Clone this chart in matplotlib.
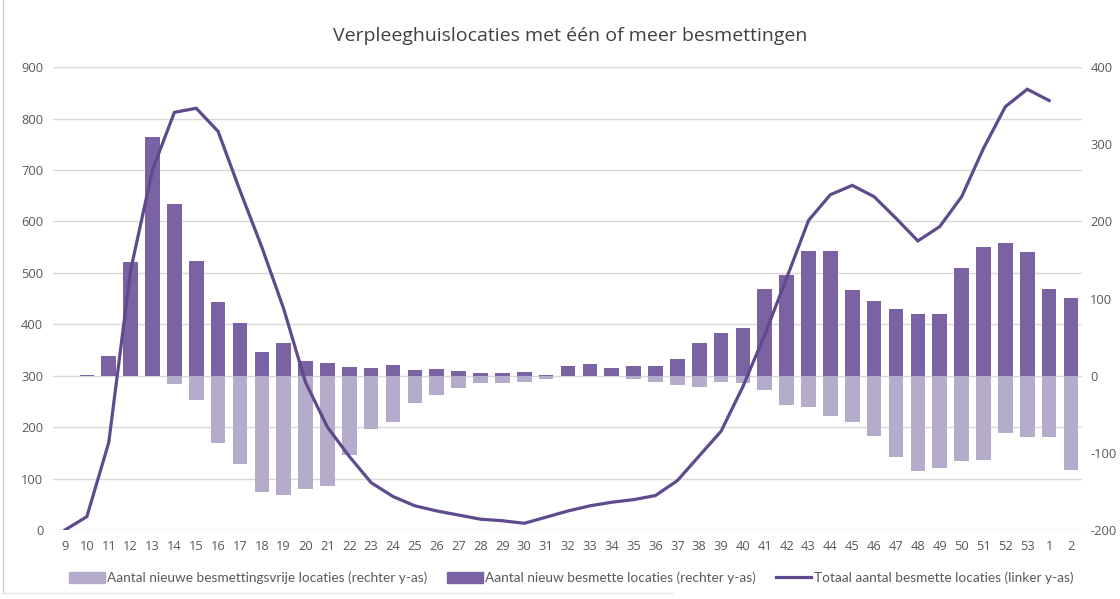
import numpy as np
import matplotlib.pyplot as plt
from matplotlib.lines import Line2D
from matplotlib.patches import Patch

plt.rcParams["axes.unicode_minus"] = False
plt.rcParams["font.family"] = ["Open Sans", "DejaVu Sans"]

# weeks (2020 week 9 .. week 53, then 2021 week 1, 2)
weeks = [str(w) for w in range(9, 54)] + ["1", "2"]

# totaal aantal besmette locaties (linker y-as)
totaal = [0, 26, 170, 505, 700, 812, 820, 775, 660, 550,
          430, 287, 200, 143, 92, 65, 47, 37, 29, 21,
          18, 13, 25, 37, 47, 54, 59, 67, 96, 144,
          192, 279, 380, 490, 602, 652, 670, 648, 606, 562,
          590, 648, 742, 823, 857, 835, np.nan]

# nieuw besmette locaties (rechter y-as)
nieuw_besmet = [0, 1, 25, 147, 309, 222, 149, 95, 68, 31,
                42, 19, 16, 11, 10, 14, 7, 9, 6, 3,
                3, 5, 1, 12, 15, 10, 12, 13, 22, 43,
                55, 62, 112, 130, 161, 161, 111, 97, 86, 80,
                80, 140, 167, 172, 160, 113, 101]

# nieuwe besmettingsvrije locaties (rechter y-as, negatief)
besmettingsvrij = [0, 0, 0, 0, 0, -11, -31, -87, -115, -151,
                   -155, -147, -143, -103, -69, -60, -35, -25, -16, -10,
                   -10, -8, -4, -1, -1, -1, -4, -8, -12, -15,
                   -8, -10, -18, -38, -41, -52, -60, -78, -106, -124,
                   -120, -110, -109, -74, -79, -80, -122]

dark = "#7b62a3"
light = "#b5abcb"
linecol = "#5e4a8c"
txtcol = "#595959"
gridcol = "#d9d9d9"

fig = plt.figure(figsize=(11.2, 5.99), dpi=100)
ax = fig.add_axes([0.0473, 0.1152, 0.9187, 0.7728])
ax2 = ax.twinx()

x = np.arange(len(weeks))

ax2.bar(x, besmettingsvrij, width=0.67, color=light, zorder=2)
ax2.bar(x, nieuw_besmet, width=0.67, color=dark, zorder=2)
ax2.set_ylim(-200, 400)
ax2.set_yticks(range(-200, 401, 100))

ax.set_ylim(0, 900)
ax.set_yticks(range(0, 901, 100))
ax.grid(axis="y", color=gridcol, linewidth=1)
ax.set_axisbelow(True)

# line drawn on a third axis on top so it sits above the bars
ax3 = ax.twinx()
ax3.set_ylim(0, 900)
ax3.plot(x, totaal, color=linecol, linewidth=2.3, solid_joinstyle="miter", zorder=5)
ax3.axis("off")

for a in (ax, ax2, ax3):
    a.set_xlim(-0.55, len(weeks) - 0.5)
    for s in a.spines.values():
        s.set_visible(False)

ax.set_xticks(x)
ax.set_xticklabels(weeks)
ax.tick_params(axis="both", length=0, labelsize=9.3, labelcolor=txtcol, pad=7)
ax2.tick_params(axis="y", length=0, labelsize=9.3, labelcolor=txtcol, pad=6)

fig.text(0.509, 0.94, "Verpleeghuislocaties met één of meer besmettingen",
         ha="center", va="center", fontsize=14, color="#404040")

handles = [Patch(color=light), Patch(color=dark),
           Line2D([0], [0], color=linecol, linewidth=2.3)]
labels = ["Aantal nieuwe besmettingsvrije locaties (rechter y-as)",
          "Aantal nieuw besmette locaties (rechter y-as)",
          "Totaal aantal besmette locaties (linker y-as)"]
leg = fig.legend(handles, labels, loc="center", bbox_to_anchor=(0.51, 0.035), ncol=3,
                 frameon=False, handlelength=2.6, handleheight=0.9, handletextpad=0.15,
                 columnspacing=1.5,
                 prop={"family": "Lato", "size": 9.8})
for t in leg.get_texts():
    t.set_color(txtcol)

# faint chart border on the left and bottom
fig.add_artist(Line2D([0.003, 0.003], [0.01, 1.0], color="#d0d0d0", linewidth=1))
fig.add_artist(Line2D([0.003, 0.6], [0.01, 0.01], color="#e6e6e6", linewidth=1))

fig.savefig("out.png", dpi=100, facecolor="white")
